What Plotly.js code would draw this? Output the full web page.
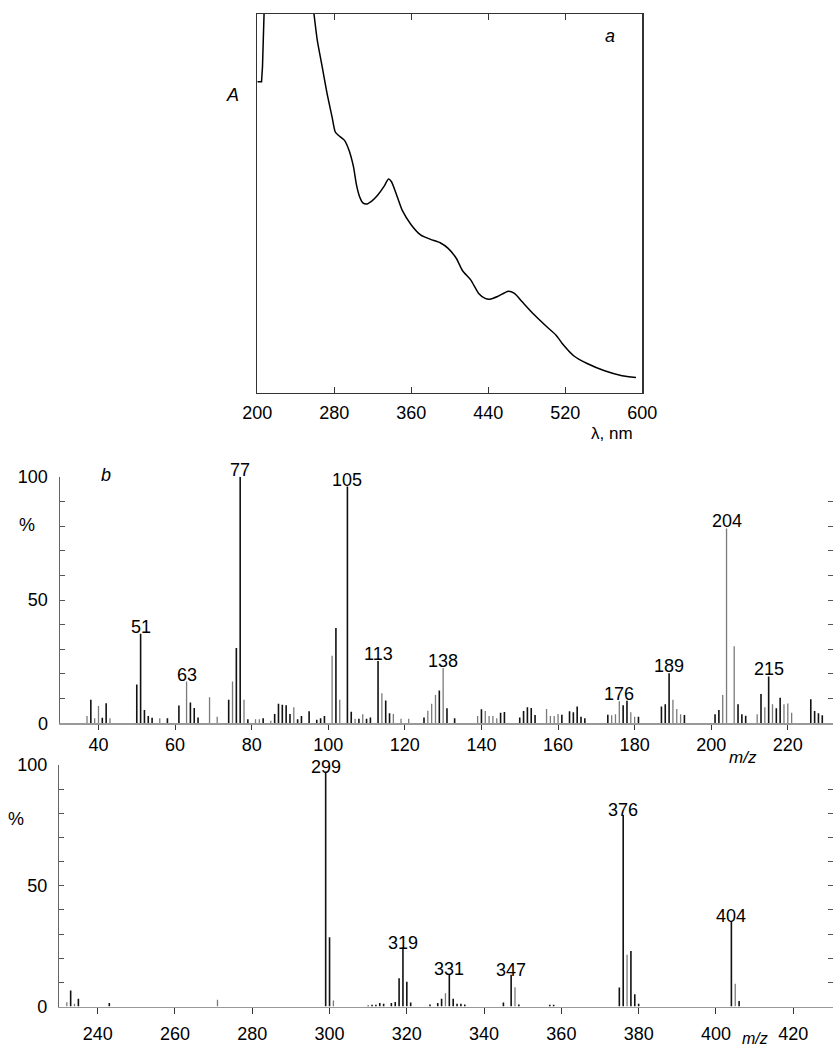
<!DOCTYPE html>
<html>
<head>
<meta charset="utf-8">
<script src="https://cdn.plot.ly/plotly-3.0.1.min.js"></script>
<style>html,body{margin:0;padding:0;background:#fff;}#chart{width:833px;height:1050px;}</style>
</head>
<body>
<div id="chart"></div>
<script>
// ---- Panel a: absorption spectrum ----
const lambdaLeft = [200, 204.4, 205.4, 206.5, 207.1, 207.6];
const absLeft    = [0.821, 0.821, 0.861, 0.940, 1.0, 1.05];
const lambdaMain = [257.5, 258.9, 262.3, 267.4, 272.5, 277.6, 280.9, 284.1, 290.4, 295.2, 299.9, 303.1, 306.2, 309.4, 313.2, 318.9, 325.2, 331.5, 336.3, 339.4, 344.2, 350.5, 360, 370, 380, 390, 398.3, 406.7, 413.3, 421.7, 430, 436.7, 441.6, 449.6, 460.8, 467.2, 475.2, 488, 500.8, 510.4, 516.8, 529, 542.7, 560.8, 578.9, 593.4];
const absMain    = [1.03, 1.0, 0.931, 0.861, 0.790, 0.729, 0.689, 0.680, 0.667, 0.641, 0.597, 0.548, 0.518, 0.502, 0.498, 0.506, 0.522, 0.544, 0.564, 0.557, 0.526, 0.482, 0.443, 0.416, 0.405, 0.396, 0.381, 0.355, 0.322, 0.298, 0.262, 0.249, 0.247, 0.254, 0.268, 0.262, 0.240, 0.205, 0.174, 0.152, 0.130, 0.097, 0.077, 0.058, 0.045, 0.040];
const lambdaTicks = [200, 280, 360, 440, 520, 600];

// ---- Panel b (upper): m/z 30-230 ----
const mz1Black  = [38, 41, 42, 50, 51, 52, 53, 54, 58, 61, 64, 65, 66, 74, 76, 77, 79, 83, 86, 87, 88, 89, 90, 92, 93, 95, 97, 98, 99, 102, 105, 106, 108, 110, 111, 113, 115, 116, 125, 129, 131, 133, 140, 145, 146, 150, 151, 152, 153, 154, 161, 163, 164, 165, 166, 167, 173, 177, 178, 181, 187, 188, 189, 193, 201, 202, 207, 208, 209, 213, 215, 217, 218, 226, 227, 228, 229];
const int1Black = [9.5, 2.3, 8.1, 15.7, 36.3, 5.4, 3, 2.3, 2, 7.2, 8.4, 6.2, 2.4, 9.5, 30.5, 100, 1.6, 2, 3.8, 7.9, 7.5, 7.3, 3.8, 1.6, 3, 4.9, 1.4, 2, 3, 38.6, 96, 4.7, 1.8, 1.8, 2.4, 25.3, 9.2, 4.1, 2.4, 13.3, 6.1, 2, 5.7, 4.3, 4.6, 2.4, 5, 6.5, 6.2, 3.4, 3.5, 4.9, 4.5, 6.8, 2.7, 2, 3.5, 7.3, 9.1, 2.7, 6.8, 7.7, 20.3, 3.4, 3.7, 5.4, 7.7, 3.7, 3.1, 11.9, 19, 6.1, 10.4, 9.8, 5, 4.1, 3.3];
const mz1Grey   = [37, 39, 40, 43, 56, 63, 69, 71, 75, 78, 81, 82, 85, 91, 101, 103, 107, 109, 114, 117, 119, 121, 126, 127, 128, 130, 139, 141, 142, 143, 144, 157, 158, 159, 160, 174, 175, 176, 179, 180, 190, 191, 192, 203, 204, 206, 212, 214, 216, 219, 220, 221];
const int1Grey  = [3, 2, 7, 2, 2, 16.9, 10.6, 2.7, 16.9, 9.5, 1.6, 1.6, 1, 6.5, 27.4, 9.5, 1.8, 3.7, 12.2, 3.8, 1.8, 1.8, 5.1, 7.9, 11.5, 22.4, 3, 5, 3, 3, 2, 5.8, 3, 3, 3.8, 3.3, 3.7, 8.9, 4.5, 2.7, 9.5, 5.8, 3.7, 11.5, 79, 31.2, 3.7, 6.5, 7.7, 7.7, 8, 4.3];
const label1Mz   = [51, 63, 77, 105, 113, 130, 176, 189, 204, 215];
const label1Text = ["51", "63", "77", "105", "113", "138", "176", "189", "204", "215"];
const mzTicks1   = [40, 60, 80, 100, 120, 140, 160, 180, 200, 220];

// ---- Panel b (lower): m/z 230-430 ----
const mz2Black  = [233, 235, 243, 299, 300, 310, 311, 312, 313, 314, 316, 317, 318, 319, 320, 321, 326, 328, 329, 331, 332, 333, 334, 335, 345, 347, 349, 357, 358, 375, 376, 378, 379, 380, 404, 406];
const int2Black = [6.6, 3.2, 1.4, 97.2, 28.7, 0.4, 0.7, 0.7, 1.5, 1.1, 1.5, 1.9, 11.7, 24.4, 10.3, 1.7, 0.8, 1.4, 3.2, 13.4, 3.2, 1.1, 1.1, 0.8, 1.7, 13.1, 0.8, 0.7, 0.7, 7.9, 79.3, 23, 5.1, 1.1, 35.4, 2.3];
const mz2Grey   = [232, 234, 271, 301, 330, 348, 377, 405];
const int2Grey  = [1.8, 1.1, 2.8, 2.5, 5.5, 8, 21.4, 9.4];
const label2Mz   = [299, 319, 331, 347, 376, 404];
const label2Text = ["299", "319", "331", "347", "376", "404"];
const mzTicks2   = [240, 260, 280, 300, 320, 340, 360, 380, 400, 420];

const pctTicks = [0, 10, 20, 30, 40, 50, 60, 70, 80, 90, 100];
const pctText  = ["0", "", "", "", "", "50", "", "", "", "", "100"];

// ---- helpers ----
const FONT = "Liberation Sans, Arial, sans-serif";
function sticks(mz, ints) {
  const x = [], y = [];
  for (let i = 0; i < mz.length; i++) { x.push(mz[i], mz[i], null); y.push(0, ints[i], null); }
  return {x, y};
}
function lookup(m, a1, b1, a2, b2) {
  let i = a1.indexOf(m); if (i >= 0) return b1[i];
  i = a2.indexOf(m); return i >= 0 ? b2[i] : 0;
}
const px = v => v / 833, py = v => 1 - v / 1050;

const s1b = sticks(mz1Black, int1Black), s1g = sticks(mz1Grey, int1Grey);
const s2b = sticks(mz2Black, int2Black), s2g = sticks(mz2Grey, int2Grey);

const traces = [
  {x: lambdaLeft, y: absLeft, mode: 'lines', line: {color: '#000', width: 1.5}, xaxis: 'x', yaxis: 'y', hoverinfo: 'skip'},
  {x: lambdaMain, y: absMain, mode: 'lines', line: {color: '#000', width: 1.5, shape: 'spline', smoothing: 0.6}, xaxis: 'x', yaxis: 'y', hoverinfo: 'skip'},
  {x: s1g.x, y: s1g.y, mode: 'lines', line: {color: '#7a7a7a', width: 1.3}, xaxis: 'x2', yaxis: 'y2', hoverinfo: 'skip'},
  {x: s1b.x, y: s1b.y, mode: 'lines', line: {color: '#111', width: 1.6}, xaxis: 'x2', yaxis: 'y2', hoverinfo: 'skip'},
  {x: [null], y: [null], mode: 'lines', xaxis: 'x2', yaxis: 'y3', hoverinfo: 'skip'},
  {x: s2g.x, y: s2g.y, mode: 'lines', line: {color: '#7a7a7a', width: 1.3}, xaxis: 'x3', yaxis: 'y4', hoverinfo: 'skip'},
  {x: s2b.x, y: s2b.y, mode: 'lines', line: {color: '#111', width: 1.6}, xaxis: 'x3', yaxis: 'y4', hoverinfo: 'skip'},
  {x: [null], y: [null], mode: 'lines', xaxis: 'x3', yaxis: 'y5', hoverinfo: 'skip'}
];

const annotations = [];
label1Mz.forEach((m, i) => annotations.push({
  xref: 'x2', yref: 'y2', x: m, y: lookup(m, mz1Black, int1Black, mz1Grey, int1Grey),
  text: label1Text[i], showarrow: false, yanchor: 'bottom', yshift: -5, font: {family: FONT, size: 18, color: '#000'}
}));
label2Mz.forEach((m, i) => annotations.push({
  xref: 'x3', yref: 'y4', x: m, y: lookup(m, mz2Black, int2Black, mz2Grey, int2Grey),
  text: label2Text[i], showarrow: false, yanchor: 'bottom', yshift: -6, borderpad: 0, font: {family: FONT, size: 18, color: '#000'}
}));
const txt = (x, y, t, size) => ({xref: 'paper', yref: 'paper', x: px(x), y: py(y), text: t, showarrow: false,
  xanchor: 'center', yanchor: 'middle', font: {family: FONT, size: size || 18, color: '#000'}});
annotations.push(txt(232, 95, '<i>A</i>'));
annotations.push(txt(610, 36, '<i>a</i>'));
annotations.push(txt(612, 433, 'λ, nm', 17));
annotations.push(txt(106, 475, '<i>b</i>'));
annotations.push(txt(27, 525, '%'));
annotations.push(txt(743, 757, '<i>m/z</i>', 17));
annotations.push(txt(16, 819, '%'));
annotations.push(txt(755, 1038, '<i>m/z</i>', 16));

const tickFont = {family: FONT, size: 18, color: '#000'};
const layout = {
  width: 833, height: 1050,
  margin: {l: 0, r: 0, t: 0, b: 0},
  paper_bgcolor: '#fff', plot_bgcolor: 'rgba(0,0,0,0)',
  showlegend: false,
  font: {family: FONT, size: 18, color: '#000'},
  xaxis: {domain: [px(257.3), px(642.3)], range: [200, 600], anchor: 'y', tickvals: lambdaTicks,
    ticks: 'inside', ticklen: 6, tickcolor: '#333', mirror: 'ticks', showline: true, linecolor: '#333', linewidth: 1.5,
    showgrid: false, zeroline: false, tickfont: tickFont, ticklabelstandoff: 3},
  yaxis: {domain: [py(392.7), py(14)], range: [0, 1], anchor: 'x', showline: true, mirror: true, linecolor: '#333', linewidth: 1.5,
    showticklabels: false, ticks: '', showgrid: false, zeroline: false},

  xaxis2: {domain: [px(60), 1], range: [29.95, 231.8], anchor: 'y2', tickvals: mzTicks1,
    ticks: 'outside', ticklen: 5, tickcolor: '#333', showline: true, linecolor: '#999', linewidth: 1.5,
    showgrid: false, zeroline: false, tickfont: tickFont, ticklabelstandoff: 0},
  yaxis2: {domain: [py(723.3), py(476.7)], range: [0, 100], anchor: 'x2', tickvals: pctTicks, ticktext: pctText,
    ticks: 'inside', ticklen: 5, tickcolor: '#555', showline: true, linecolor: '#666', linewidth: 1.5,
    showgrid: false, zeroline: false, tickfont: tickFont, ticklabelstandoff: 7},
  yaxis3: {overlaying: 'y2', side: 'right', anchor: 'x2', range: [0, 100], tickvals: pctTicks,
    ticks: 'inside', ticklen: 5, tickcolor: '#555', showticklabels: false, showline: false, showgrid: false, zeroline: false},

  xaxis3: {domain: [px(59.3), 1], range: [230.06, 430.3], anchor: 'y4', tickvals: mzTicks2,
    ticks: 'outside', ticklen: 6, tickcolor: '#333', showline: true, linecolor: '#999', linewidth: 1.5,
    showgrid: false, zeroline: false, tickfont: tickFont, ticklabelstandoff: 4},
  yaxis4: {domain: [py(1006.5), py(765)], range: [0, 100], anchor: 'x3', tickvals: pctTicks, ticktext: pctText,
    ticks: 'inside', ticklen: 5, tickcolor: '#555', showline: true, linecolor: '#666', linewidth: 1.5,
    showgrid: false, zeroline: false, tickfont: tickFont, ticklabelstandoff: 7},
  yaxis5: {overlaying: 'y4', side: 'right', anchor: 'x3', range: [0, 100], tickvals: pctTicks,
    ticks: 'inside', ticklen: 5, tickcolor: '#555', showticklabels: false, showline: false, showgrid: false, zeroline: false},
  annotations: annotations
};

Plotly.newPlot('chart', traces, layout, {staticPlot: true, displayModeBar: false});
</script>
</body>
</html>
